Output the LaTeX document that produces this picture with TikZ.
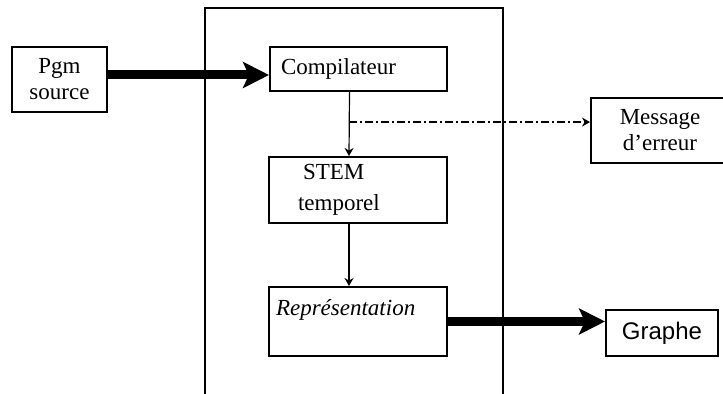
\documentclass[tikz,border=0pt]{standalone}
\usepackage{fontspec}
\setmainfont{Liberation Serif}
\setsansfont{Liberation Sans}
\usetikzlibrary{positioning}
\usetikzlibrary{arrows.meta}
\usetikzlibrary{calc}

\begin{document}
\begin{tikzpicture}[x=0.5pt, y=-0.5pt,
        box/.style={draw, line width=1pt, inner sep=0pt, font=\fontsize{11.5}{13}\selectfont},
        bigarrow/.style={line width=4.5pt, -{Stealth[length=13pt, width=13pt, inset=3pt]}},
        smallarrow/.style={line width=0.6pt, -{Stealth[length=4pt, width=4.5pt]}}]
        \useasboundingbox (0,0) rectangle (723,394);
        \draw[line width=1pt] (205,420) -- (205,8.5) -- (503,8.5) -- (503,420);

        \node[box, minimum width=47.5pt, minimum height=32.5pt, align=center]
            (pgm) at (59.5,79.5) {Pgm\\source};
        \node[box, text width=77.5pt, inner xsep=5.5pt, minimum height=22pt, align=left]
            (compil) at (358.5,69) {Compilateur};
        \node[box, text width=60pt, inner xsep=14.5pt, minimum height=33pt, align=left]
            (stem) at (358,190) {\hspace*{2.5pt}STEM\\[2.5pt]temporel};
        \node[box, text width=82pt, inner xsep=3.5pt, minimum height=34.5pt, align=left]
            (repres) at (358,321.5) {\itshape Représentation\\[1pt]\mbox{}};
        \node[box, minimum width=69pt, minimum height=32.5pt, align=center]
            (message) at (660,130.5) {Message\\d’erreur};
        \node[box, minimum width=56pt, minimum height=23pt, font=\sffamily\fontsize{12}{14}\selectfont]
            (graphe) at (662,333) {Graphe};

        \draw[bigarrow] (pgm.east |- 0,75) -- (compil.west |- 0,75);
        \draw[smallarrow] ([xshift=-4.5pt]compil.south) -- ([xshift=-4.5pt]stem.north);
        \draw[smallarrow] ([xshift=-4.5pt]stem.south) -- ([xshift=-4.5pt]repres.north);
        \coordinate (branch) at ($([xshift=-4.5pt]compil.south)!0.47!([xshift=-4.5pt]stem.north)$);
        \draw[line width=0.6pt, dash pattern=on 4pt off 1.5pt on 1pt off 1.5pt,
            -{Stealth[length=4pt, width=4.5pt]}] (branch) -- (branch -| message.west);
        \draw[bigarrow] (repres.east) -- (repres.east -| graphe.west);
    \end{tikzpicture}
\end{document}
